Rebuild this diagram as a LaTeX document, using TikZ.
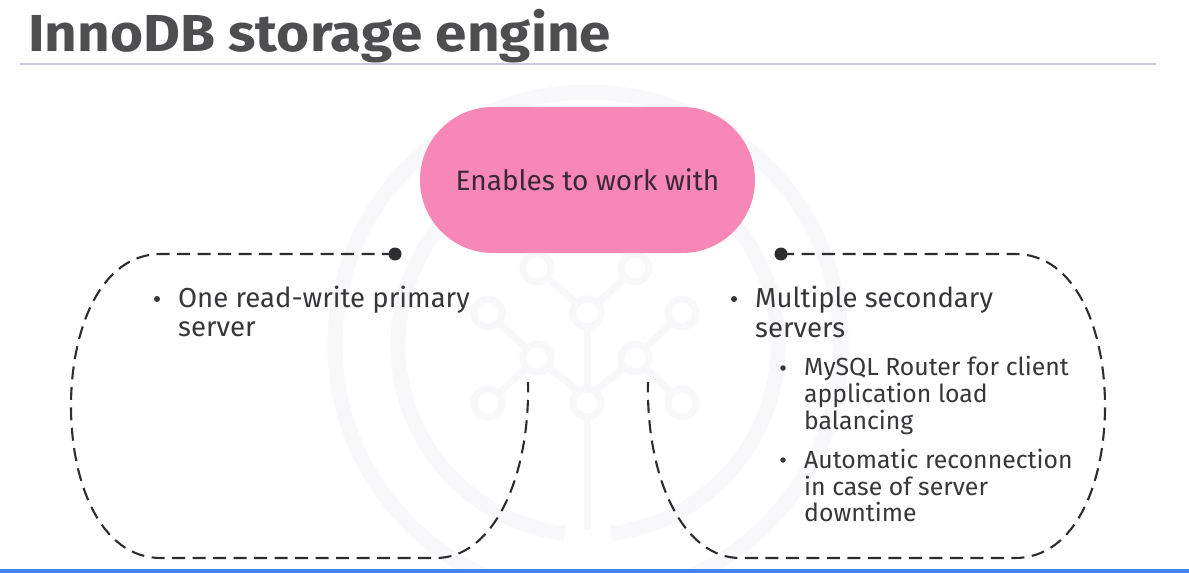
\documentclass[tikz,border=0pt]{standalone}
\usepackage{fontspec}
\setmainfont{Fira Sans}
\newfontfamily\titlefont[FakeStretch=1.09]{Fira Sans}
\definecolor{pinkfill}{RGB}{247,136,181}
\definecolor{pilltext}{RGB}{58,40,50}
\definecolor{bodytext}{RGB}{55,55,58}
\definecolor{titlec}{RGB}{78,78,80}
\definecolor{rulec}{RGB}{200,200,222}
\definecolor{barc}{RGB}{66,133,240}
\definecolor{dashc}{RGB}{45,45,48}
\definecolor{wm}{RGB}{248,248,250}
\begin{document}
\begin{tikzpicture}[x=1pt,y=-1pt,
  pill/.style={rectangle, rounded corners=73pt, minimum width=335pt, minimum height=146pt,
    fill=pinkfill, text=pilltext, font=\fontsize{28}{34}\selectfont, inner sep=0pt},
  dotnode/.style={circle, fill=dashc, inner sep=0pt, minimum size=13pt},
  bul/.style={circle, fill=bodytext, inner sep=0pt, minimum size=6pt},
  subbul/.style={circle, fill=bodytext, inner sep=0pt, minimum size=5.5pt},
  maintext/.style={anchor=base west, inner sep=0pt, text=bodytext, font=\fontsize{27.5}{32}\selectfont},
  subtext/.style={anchor=base west, inner sep=0pt, text=bodytext, font=\fontsize{24.8}{30}\selectfont},
  dashline/.style={draw=dashc, line width=2.1pt, dash pattern=on 13pt off 7.5pt},
  wmline/.style={draw=wm, line width=7pt},
  wmring/.style={draw=wm, line width=15pt},
  wmcirc/.style={draw=wm, fill=white, line width=7pt}
]
\useasboundingbox (0,0) rectangle (1189,573);
\fill[white] (0,0) rectangle (1189,573);

% faint watermark
\begin{scope}
\clip (0,66) rectangle (1189,568);
\draw[wmring] (588,345) circle[radius=253];
\draw[wmring] (588,345) ++(97:190) arc[start angle=97, end angle=443, radius=190];
\draw[wmline] (587,313) -- (587,530);
\draw[wmline] (537,268) -- (587,313) -- (635,268);
\draw[wmline] (488,313) -- (537,358) -- (587,398) -- (635,358) -- (682,313);
\draw[wmline] (488,403) -- (537,358);
\draw[wmline] (682,403) -- (635,358);
\foreach \p in {(537,268),(635,268),(488,313),(587,313),(682,313),(537,358),(635,358),(488,403),(587,403),(682,403)}
  \draw[wmcirc] \p circle[radius=14];
\end{scope}

% title and rule
\node[anchor=base west, inner sep=0pt, text=titlec, font=\fontsize{52}{60}\titlefont\bfseries] (title) at (28,51) {InnoDB storage engine};
\draw[rulec, line width=1.5pt] (20,64) -- (1156,64);

% central pill
\node[pill] (enable) at (587.5,180) {Enables to work with};

% connector dots
\node[dotnode] (ldot) at (395,254) {};
\node[dotnode] (rdot) at (781,254) {};

% dashed shapes
\draw[dashline] (ldot.center) -- (161,254)
  .. controls (100,254) and (71,330) .. (71,406)
  .. controls (71,482) and (100,558) .. (161,558)
  -- (436,558)
  .. controls (492,558) and (530,480) .. (528,382);
\draw[dashline] (rdot.center) -- (1015,254)
  .. controls (1076,254) and (1105,330) .. (1105,406)
  .. controls (1105,482) and (1076,558) .. (1015,558)
  -- (740,558)
  .. controls (684,558) and (646,480) .. (648,382);

% left content
\node[bul] (lb1) at (157,299) {};
\node[maintext] (l1) at (178,307) {One read-write primary};
\node[maintext] (l2) at (178,336) {server};

% right content
\node[bul] (rb1) at (734,299) {};
\node[maintext] (r1) at (755,307) {Multiple secondary};
\node[maintext] (r2) at (755,337) {servers};

\node[subbul] (sb1) at (783,368) {};
\node[subtext] (s1) at (804,375) {MySQL Router for client};
\node[subtext] (s2) at (804,402) {application load};
\node[subtext] (s3) at (804,429) {balancing};

\node[subbul] (sb2) at (783,460) {};
\node[subtext] (s4) at (804,468) {Automatic reconnection};
\node[subtext] (s5) at (804,495) {in case of server};
\node[subtext] (s6) at (804,521) {downtime};

% bottom bar
\fill[barc] (0,569) rectangle (1189,573);
\end{tikzpicture}
\end{document}
